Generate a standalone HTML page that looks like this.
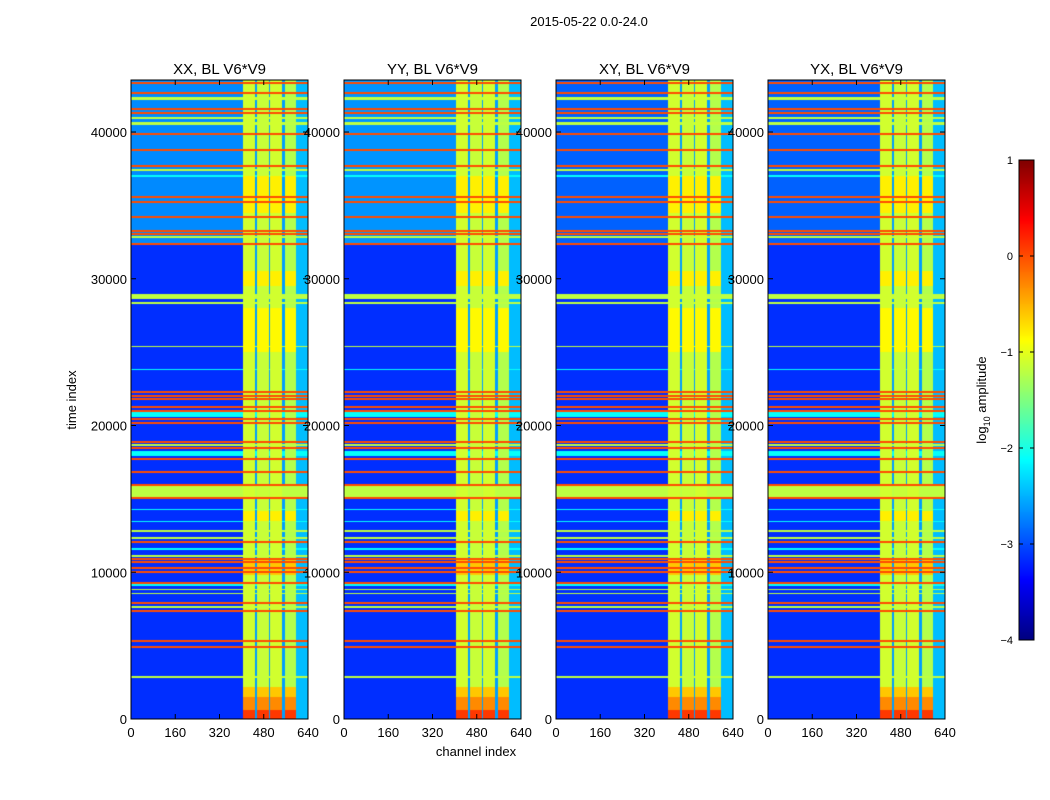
<!DOCTYPE html>
<html><head><meta charset="utf-8"><style>
body{margin:0;background:#fff;width:1050px;height:800px;overflow:hidden;position:relative;font-family:"Liberation Sans",sans-serif}
canvas{position:absolute}
svg{position:absolute;left:0;top:0}
</style></head><body>
<canvas id="c0" width="177" height="639" style="left:131px;top:80px"></canvas>
<canvas id="c1" width="177" height="639" style="left:344px;top:80px"></canvas>
<canvas id="c2" width="177" height="639" style="left:556px;top:80px"></canvas>
<canvas id="c3" width="177" height="639" style="left:768px;top:80px"></canvas>
<canvas id="cb" width="15" height="480" style="left:1019px;top:160px"></canvas>
<svg id="ax" width="1050" height="800"></svg>
<script>
// ---- data ----
const panelTitles = ["XX, BL V6*V9","YY, BL V6*V9","XY, BL V6*V9","YX, BL V6*V9"];
const xTicks = [0,160,320,480,640];
const yTicks = [0,10000,20000,30000,40000];
const cbTicks = [1,0,-1,-2,-3,-4];
const colBreaks = [0,405,450,458,500,506,548,557,600,640];
const colLevels = [null,-1.1,-2.6,-1.15,-2.6,-1.1,-2.6,-1.25,-2.45];
const upperBg = [-2.7,-2.65,-2.9,-2.9];
const lowerBg = [-3.15,-3.15,-3.15,-3.15];
const bgSplit = 32400;
const orangeLines = [43360,42640,41550,41270,39860,38770,37680,35590,35210,34230,33230,33050,32350,22300,22030,21810,21240,21010,20440,20150,18860,18450,17700,16850,15950,15040,12080,10880,10680,10310,10000,9290,7930,7380,5320,4880];
const greenLines = [42270,40930,40570,37410,32870,28820,28370,25370,18670,15515,12830,12310,11110,8830,8560,7650,2840];
const greenWidths = [200,120,250,120,120,350,120,100,120,730,120,120,150,120,120,120,120];
const cyanLines = [37020,23830,20750,18090,14290,13450,11580,9170,4900];
const cyanWidths = [120,100,380,340,100,100,100,200,150];
const hotStart = [0,600,1500,9800,13500,25000,29500,34500];
const hotEnd = [600,1500,2200,11000,14200,28000,30500,37000];
const hotLevel = [0.1,-0.3,-0.6,-0.6,-0.8,-0.85,-0.8,-0.8];
// ---- scales ----
const tMax = 43545, W = 177, H = 639;
function yOf(t){return 719 - t*(639/tMax);}
function jet(v){
  let x=(v+4)/5; x=Math.max(0,Math.min(1,x));
  const c=a=>Math.round(255*Math.max(0,Math.min(1,1.5-Math.abs(4*x-a))));
  return `rgb(${c(3)},${c(2)},${c(1)})`;
}
function rowLevel(t){
  let v=-9;
  orangeLines.forEach(c=>{if(Math.abs(t-c)<70)v=Math.max(v,0.0);});
  greenLines.forEach((c,i)=>{if(Math.abs(t-c)<greenWidths[i]/2)v=Math.max(v,-1.2);});
  cyanLines.forEach((c,i)=>{if(Math.abs(t-c)<cyanWidths[i]/2)v=Math.max(v,-2.1);});
  return v;
}
function hot(t){let v=-9;hotStart.forEach((s,i)=>{if(t>=s&&t<hotEnd[i])v=Math.max(v,hotLevel[i]);});return v;}
for(let p=0;p<4;p++){
  const ctx=document.getElementById('c'+p).getContext('2d');
  for(let r=0;r<H;r++){
    const t=(H-r-0.5)*tMax/H;
    const bg=t>bgSplit?upperBg[p]:lowerBg[p];
    const rl=rowLevel(t), h=hot(t);
    for(let k=0;k<colLevels.length;k++){
      let v=colLevels[k]===null?bg:colLevels[k];
      if(v>-1.5) v=Math.max(v,h);
      v=Math.max(v,rl);
      ctx.fillStyle=jet(v);
      const x0=colBreaks[k]*W/640,x1=colBreaks[k+1]*W/640;
      ctx.fillRect(Math.floor(x0),r,Math.ceil(x1)-Math.floor(x0),1);
    }
  }
}
const cb=document.getElementById('cb').getContext('2d');
for(let r=0;r<480;r++){cb.fillStyle=jet(1-(r+0.5)*5/480);cb.fillRect(0,r,15,1);}
// ---- axes ----
const svg=document.getElementById('ax');const NS='http://www.w3.org/2000/svg';
function mk(tag,attrs,txt){const e=document.createElementNS(NS,tag);for(const k in attrs)e.setAttribute(k,attrs[k]);if(txt!==undefined)e.textContent=txt;svg.appendChild(e);return e;}
const lefts=[131,344,556,768];
lefts.forEach((L,p)=>{
  const f=mk('rect',{x:L,y:80,width:W,height:H,fill:'none',stroke:'#000','stroke-width':1});
  
  
  const tt=mk('text',{x:L+W/2,y:74,'text-anchor':'middle','font-size':15},panelTitles[p]);
  
  
  xTicks.forEach(v=>{
    const x=L+v*W/640;
    mk('line',{x1:x,x2:x,y1:719,y2:714,stroke:'#000'});mk('line',{x1:x,x2:x,y1:80,y2:85,stroke:'#000'});
    const l=mk('text',{x:x,y:737,'text-anchor':'middle','font-size':13},String(v));
    
    
  });
  yTicks.forEach(v=>{
    const y=yOf(v);
    mk('line',{x1:L,x2:L+5,y1:y,y2:y,stroke:'#000'});mk('line',{x1:L+W,x2:L+W-5,y1:y,y2:y,stroke:'#000'});
    const l=mk('text',{x:L-4,y:y+5,'text-anchor':'end','font-size':13},String(v));
    
    
  });
});
mk('rect',{x:1019,y:160,width:15,height:480,fill:'none',stroke:'#000'});
cbTicks.forEach(v=>{
  const y=160+(1-v)*480/5;
  mk('line',{x1:1019,x2:1023,y1:y,y2:y,stroke:'#000'});mk('line',{x1:1034,x2:1030,y1:y,y2:y,stroke:'#000'});
  const l=mk('text',{x:1013,y:y+4,'text-anchor':'end','font-size':11},v<0?'\u2212'+(-v):String(v));
  
  
});
const s=mk('text',{x:589,y:26,'text-anchor':'middle','font-size':13},'2015-05-22 0.0-24.0');


const xl=mk('text',{x:476,y:756,'text-anchor':'middle','font-size':13},'channel index');


const yl=mk('text',{x:76,y:400,'text-anchor':'middle','font-size':13,transform:'rotate(-90 76 400)'},'time index');


const cl=mk('text',{x:986,y:400,'text-anchor':'middle','font-size':13,transform:'rotate(-90 986 400)'});


cl.innerHTML='log<tspan font-size="9" dy="4">10</tspan><tspan dy="-4"> amplitude</tspan>';
</script>
</body></html>
